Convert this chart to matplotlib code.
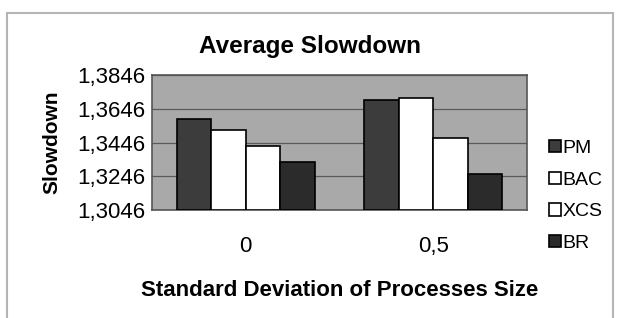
import matplotlib.pyplot as plt
from matplotlib.patches import Rectangle

plt.rcParams['font.family'] = ['Liberation Sans', 'DejaVu Sans']

categories = ['0', '0,5']
series = ['PM', 'BAC', 'XCS', 'BR']
values = {
    'PM': [1.3583, 1.3699],
    'BAC': [1.3518, 1.3709],
    'XCS': [1.3428, 1.3474],
    'BR': [1.3328, 1.3261],
}
colors = {'PM': '#3c3c3c', 'BAC': 'white', 'XCS': 'white', 'BR': '#2b2b2b'}
yticks = [1.3046, 1.3246, 1.3446, 1.3646, 1.3846]
ytick_labels = ['1,3046', '1,3246', '1,3446', '1,3646', '1,3846']

W, H = 619, 318
fig = plt.figure(figsize=(W / 100, H / 100), dpi=100)

# outer chart frame
fig.patches.append(Rectangle((7 / W, -0.05), (613 - 7) / W, (H - 13) / H + 0.05,
                             transform=fig.transFigure, fill=False,
                             edgecolor='#b5b5b5', linewidth=1.5))

ax = fig.add_axes([152 / W, (H - 210) / H, 375 / W, 135 / H])
ax.set_facecolor('#a9a9a9')

bw = 0.184
for i, name in enumerate(series):
    xs = [k + (i - 1.5) * bw for k in range(len(categories))]
    ax.bar(xs, [v - yticks[0] for v in values[name]], bw, bottom=yticks[0],
           color=colors[name], edgecolor='black', linewidth=1.2,
           label=name, zorder=3)

ax.set_xlim(-0.5, 1.5)
ax.set_ylim(yticks[0], yticks[-1])
ax.set_yticks(yticks)
ax.set_yticklabels(ytick_labels, fontsize=16)
ax.set_xticks(range(len(categories)))
ax.set_xticklabels(categories, fontsize=16)
ax.tick_params(length=0, pad=5)
ax.tick_params(axis='x', pad=19)
ax.grid(axis='y', color='#5a5a5a', linewidth=0.9, zorder=1)
for s in ax.spines.values():
    s.set_color('#555555')
    s.set_linewidth(1.2)

# title is centred on the whole chart frame, not on the plot area
fig.text(310 / W, (H - 47) / H, 'Average Slowdown', fontsize=17.5,
         fontweight='bold', ha='center', va='center')
ax.set_ylabel('Slowdown', fontsize=15, fontweight='bold', labelpad=11)
ax.set_xlabel('Standard Deviation of Processes Size', fontsize=16,
              fontweight='bold', labelpad=16)

fig.legend(loc='center left', bbox_to_anchor=(549 / W, (H - 196) / H),
           frameon=False, fontsize=14, handlelength=0.6, handleheight=0.6,
           handletextpad=0.1, labelspacing=0.75, borderpad=0,
           borderaxespad=0)

fig.savefig('out.png', dpi=100, facecolor='white')
